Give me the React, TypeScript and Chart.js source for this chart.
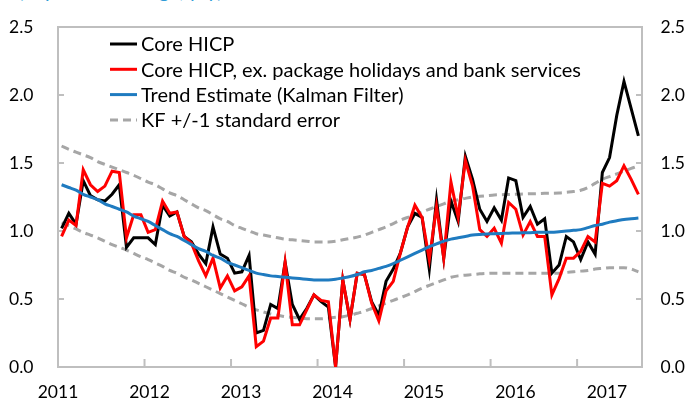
import React, { useEffect, useRef } from 'react';
import { Chart, registerables } from 'chart.js';

Chart.register(...registerables);

const years = ['2011', '2012', '2013', '2014', '2015', '2016', '2017'];
const monthNames = ['Jan', 'Feb', 'Mar', 'Apr', 'May', 'Jun', 'Jul', 'Aug', 'Sep', 'Oct', 'Nov', 'Dec'];
const categories = years.flatMap((y) => monthNames.map((m) => `${m} ${y}`)).slice(0, 81);

const yearLabels = ['2011', '2012', '2013', '2014', '2015', '2016', '2017'];

const coreHicp = [
  1.02, 1.13, 1.05, 1.37, 1.26, 1.23, 1.22, 1.27, 1.34, 0.88,
  0.95, 0.95, 0.95, 0.90, 1.19, 1.11, 1.14, 0.96, 0.92, 0.83,
  0.76, 1.03, 0.83, 0.80, 0.69, 0.70, 0.82, 0.25, 0.27, 0.46,
  0.43, 0.77, 0.46, 0.35, 0.43, 0.53, 0.48, 0.44, 0.00, 0.64,
  0.35, 0.69, 0.68, 0.48, 0.38, 0.63, 0.72, 0.84, 1.03, 1.13,
  1.10, 0.72, 1.23, 0.80, 1.22, 1.07, 1.55, 1.38, 1.16, 1.07,
  1.17, 1.08, 1.39, 1.37, 1.10, 1.18, 1.05, 1.09, 0.69, 0.75,
  0.96, 0.92, 0.79, 0.92, 0.83, 1.43, 1.54, 1.85, 2.10, 1.90,
  1.70,
];

const coreExPackage = [
  0.96, 1.08, 1.04, 1.45, 1.34, 1.29, 1.33, 1.44, 1.43, 0.95,
  1.12, 1.12, 0.99, 1.01, 1.22, 1.13, 1.14, 0.96, 0.91, 0.78,
  0.67, 0.80, 0.58, 0.67, 0.56, 0.59, 0.67, 0.15, 0.19, 0.36,
  0.36, 0.77, 0.31, 0.31, 0.42, 0.53, 0.49, 0.48, 0.00, 0.64,
  0.35, 0.69, 0.68, 0.47, 0.34, 0.56, 0.63, 0.84, 1.03, 1.19,
  1.10, 0.79, 1.18, 0.80, 1.36, 1.10, 1.52, 1.33, 1.01, 0.96,
  1.02, 0.91, 1.21, 1.16, 0.97, 1.07, 0.96, 0.96, 0.53, 0.65,
  0.80, 0.80, 0.85, 0.96, 0.92, 1.35, 1.33, 1.37, 1.48, 1.38,
  1.27,
];

const trendEstimate = [
  1.34, 1.32, 1.30, 1.27, 1.25, 1.23, 1.20, 1.18, 1.16, 1.14, 1.11, 1.09, 1.07,
  1.04, 1.01, 0.98, 0.96, 0.93, 0.90,
  0.87, 0.85, 0.82, 0.80, 0.77, 0.75,
  0.73, 0.71, 0.69,
  0.68, 0.67, 0.665,
  0.66, 0.655, 0.65, 0.645, 0.64, 0.64, 0.64, 0.645, 0.655,
  0.665, 0.68, 0.70,
  0.71, 0.725, 0.74,
  0.76, 0.785, 0.81,
  0.835, 0.86, 0.885,
  0.905, 0.925, 0.94,
  0.95, 0.96, 0.97,
  0.975, 0.978, 0.98, 0.982, 0.984, 0.985, 0.987, 0.988, 0.99, 0.99, 0.99,
  0.995, 1.0, 1.005, 1.01, 1.025, 1.04, 1.05, 1.065, 1.075, 1.085, 1.09, 1.095,
];

const kfUpper = [
  1.625, 1.60, 1.58, 1.56, 1.54, 1.51, 1.49, 1.47, 1.45, 1.43, 1.41, 1.385, 1.36,
  1.34, 1.31, 1.28, 1.26, 1.23, 1.20,
  1.17, 1.15, 1.12, 1.09, 1.07, 1.04,
  1.02, 1.00, 0.98,
  0.97, 0.96, 0.95,
  0.94, 0.935, 0.93, 0.925, 0.92, 0.92, 0.92, 0.925, 0.935,
  0.945, 0.955, 0.97,
  0.99, 1.01, 1.03,
  1.055, 1.08, 1.10,
  1.12, 1.14, 1.16,
  1.18, 1.20, 1.22,
  1.23, 1.24, 1.25,
  1.255, 1.26, 1.265, 1.267, 1.268, 1.27, 1.272, 1.274, 1.275, 1.277, 1.278,
  1.28, 1.285, 1.29, 1.30, 1.32, 1.35, 1.38, 1.40, 1.42, 1.44, 1.46, 1.48,
];

const kfLower = [
  1.06, 1.04, 1.015, 0.99, 0.97, 0.95, 0.925, 0.90, 0.88, 0.86, 0.835, 0.81, 0.79,
  0.765, 0.74, 0.71, 0.69, 0.66, 0.64,
  0.615, 0.59, 0.565, 0.54, 0.515, 0.49,
  0.465, 0.44, 0.42,
  0.405, 0.39, 0.38,
  0.37, 0.365, 0.36, 0.355, 0.355, 0.355, 0.36, 0.365, 0.37,
  0.38, 0.395, 0.41,
  0.43, 0.45, 0.47,
  0.49, 0.51, 0.53,
  0.555, 0.58, 0.60,
  0.62, 0.64, 0.66,
  0.67, 0.675, 0.68,
  0.685, 0.688, 0.69, 0.69, 0.69, 0.69, 0.69, 0.69, 0.69, 0.69, 0.69,
  0.69, 0.695, 0.70, 0.705, 0.71, 0.72, 0.725, 0.73, 0.73, 0.73, 0.72, 0.70,
];

const FONT = 'Lato, "Open Sans", sans-serif';

const frameTicksPlugin = {
  id: 'frameTicks',
  beforeDatasetsDraw(chart: any, _args: any, opts: any) {
    const { ctx, chartArea: a, scales } = chart;
    ctx.save();
    ctx.strokeStyle = opts.color;
    ctx.lineWidth = opts.width;
    ctx.strokeRect(a.left, a.top, a.right - a.left, a.bottom - a.top);
    ctx.beginPath();
    scales.y.ticks.forEach((t: any) => {
      const py = scales.y.getPixelForValue(t.value);
      ctx.moveTo(a.left, py);
      ctx.lineTo(a.left + opts.yLen, py);
    });
    scales.y1.ticks.forEach((t: any) => {
      const py = scales.y1.getPixelForValue(t.value);
      ctx.moveTo(a.right, py);
      ctx.lineTo(a.right - opts.yLen, py);
    });
    const xs = scales.x;
    const half = (xs.getPixelForValue(1) - xs.getPixelForValue(0)) / 2;
    for (let i = 12; i < categories.length; i += 12) {
      const px = xs.getPixelForValue(i) - half;
      ctx.moveTo(px, a.bottom);
      ctx.lineTo(px, a.bottom - opts.xLen);
    }
    ctx.stroke();
    ctx.restore();
  },
};

const insideLegendPlugin = {
  id: 'insideLegend',
  afterDatasetsDraw(chart: any, _args: any, opts: any) {
    const { ctx, chartArea } = chart;
    let row = 0;
    chart.data.datasets.forEach((ds: any) => {
      if (ds.hideInLegend) return;
      const y = chartArea.top + opts.top + row * opts.rowHeight;
      const x0 = chartArea.left + opts.left;
      ctx.save();
      ctx.strokeStyle = ds.borderColor;
      ctx.lineWidth = ds.borderWidth;
      ctx.setLineDash(ds.borderDash || []);
      ctx.beginPath();
      ctx.moveTo(x0, y);
      ctx.lineTo(x0 + opts.lineLength, y);
      ctx.stroke();
      ctx.setLineDash([]);
      ctx.fillStyle = opts.color;
      ctx.font = opts.font;
      ctx.textBaseline = 'middle';
      ctx.textAlign = 'left';
      ctx.fillText(ds.label, x0 + opts.lineLength + opts.gap, y + 1);
      ctx.restore();
      row++;
    });
  },
};

export default function App() {
  const canvasRef = useRef<HTMLCanvasElement | null>(null);

  useEffect(() => {
    if (!canvasRef.current) return;
    const tickFont = { family: FONT, size: 17.5 };
    const chart = new Chart(canvasRef.current, {
      type: 'line',
      data: {
        labels: categories,
        datasets: [
          {
            label: 'Core HICP',
            data: coreHicp,
            borderColor: '#000000',
            borderWidth: 3,
            pointRadius: 0,
            tension: 0,
            order: 2,
          },
          {
            label: 'Core HICP, ex. package holidays and bank services',
            data: coreExPackage,
            borderColor: '#ff0000',
            borderWidth: 3,
            pointRadius: 0,
            tension: 0,
            order: 1,
          },
          {
            label: 'Trend Estimate (Kalman Filter)',
            data: trendEstimate,
            borderColor: '#1f7bc0',
            borderWidth: 3,
            pointRadius: 0,
            cubicInterpolationMode: 'monotone',
            order: 0,
          },
          {
            label: 'KF +/-1 standard error',
            data: kfUpper,
            borderColor: '#a6a6a6',
            borderWidth: 3,
            borderDash: [8, 5],
            pointRadius: 0,
            cubicInterpolationMode: 'monotone',
            order: 3,
          },
          {
            label: 'KF -1 standard error',
            data: kfLower,
            borderColor: '#a6a6a6',
            borderWidth: 3,
            borderDash: [8, 5],
            pointRadius: 0,
            cubicInterpolationMode: 'monotone',
            order: 3,
            hideInLegend: true,
          } as any,
        ],
      },
      options: {
        responsive: true,
        maintainAspectRatio: false,
        animation: false,
        events: [],
        layout: { padding: { top: 27, left: 9, right: 7, bottom: 0 } },
        plugins: {
          legend: { display: false },
          tooltip: { enabled: false },
          frameTicks: { color: '#bfbfbf', width: 2, yLen: 6, xLen: 8 },
          insideLegend: {
            top: 17,
            left: 52,
            rowHeight: 25.3,
            lineLength: 27,
            gap: 4,
            color: '#000000',
            font: `20px ${FONT}`,
          },
        } as any,
        scales: {
          x: {
            type: 'category',
            display: false,
            offset: true,
          },
          xYears: {
            type: 'linear',
            position: 'bottom',
            min: 2011,
            max: 2017.383,
            grid: { display: false, drawTicks: false },
            border: { display: false },
            ticks: {
              stepSize: 1,
              includeBounds: false,
              autoSkip: false,
              maxRotation: 0,
              padding: 15,
              color: '#000000',
              font: tickFont,
              callback: (v: any) => {
                const idx = Math.round(Number(v)) - 2011;
                return Number.isInteger(Number(v)) && yearLabels[idx] ? yearLabels[idx] : '';
              },
            },
            afterFit: (s: any) => {
              s.height = 39;
            },
          },
          y: {
            position: 'left',
            min: 0,
            max: 2.5,
            grid: { display: false, drawTicks: false },
            border: { display: false },
            ticks: {
              stepSize: 0.5,
              padding: 0,
              crossAlign: 'far',
              color: '#000000',
              font: tickFont,
              callback: (v: any) => Number(v).toFixed(1),
            },
            afterFit: (s: any) => {
              s.width = 49;
            },
          },
          y1: {
            position: 'right',
            min: 0,
            max: 2.5,
            grid: { display: false, drawTicks: false },
            border: { display: false },
            ticks: {
              stepSize: 0.5,
              padding: 0,
              crossAlign: 'far',
              color: '#000000',
              font: tickFont,
              callback: (v: any) => Number(v).toFixed(1),
            },
            afterFit: (s: any) => {
              s.width = 43;
            },
          },
        } as any,
      },
      plugins: [frameTicksPlugin, insideLegendPlugin],
    } as any);
    return () => chart.destroy();
  }, []);

  return (
    <div
      style={{
        position: 'fixed',
        left: 0,
        top: 0,
        width: 692,
        height: 406,
        background: '#ffffff',
        overflow: 'hidden',
      }}
    >
      <div
        style={{
          position: 'absolute',
          left: 18,
          top: -20,
          fontFamily: FONT,
          fontSize: 20,
          lineHeight: '20px',
          color: '#2e9bd6',
          whiteSpace: 'nowrap',
        }}
      >
        (In percent change, y/y)
      </div>
      <canvas ref={canvasRef} style={{ position: 'absolute', left: 0, top: 0 }} />
    </div>
  );
}
